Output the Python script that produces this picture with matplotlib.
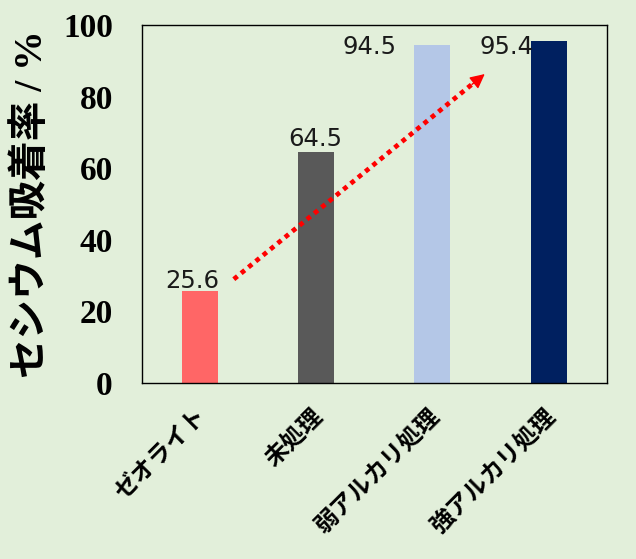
import matplotlib
matplotlib.use('Agg')
import matplotlib.pyplot as plt
import matplotlib.transforms as mtransforms
import numpy as np

# data
categories = ['ゼオライト', '未処理', '弱アルカリ処理', '強アルカリ処理']
adsorption = [25.6, 64.5, 94.5, 95.4]
bar_colors = ['#FF6666', '#595959', '#B4C7E7', '#002060']
# where each value label sits (x, baseline y) in data coords
label_pos = [(-0.07, 26.6), (0.99, 66.3), (1.46, 92.0), (2.64, 92.0)]

bg = '#E2EFDA'
jp = ['Noto Sans CJK JP', 'DejaVu Sans']

fig = plt.figure(figsize=(6.36, 5.59), dpi=100, facecolor=bg)
ax = fig.add_axes([0.2233, 0.3148, 0.7307, 0.6405])
ax.set_facecolor(bg)

x = np.arange(len(categories))
ax.bar(x, adsorption, width=0.31, color=bar_colors, zorder=2)

for (lx, ly), v in zip(label_pos, adsorption):
    ax.text(lx, ly, f'{v:.1f}', ha='center', va='baseline', fontsize=17.5,
            family='DejaVu Sans', color='#1a1a1a', zorder=4)

# dotted trend arrow
x0, y0 = 0.29, 29.0
x1, y1 = 2.45, 86.3
ax.plot([x0, x1 - 0.1], [y0, y1 - 2.6], color='red', lw=3.4,
        linestyle=(0, (1, 1.0)), dash_capstyle='butt', zorder=3)
ax.annotate('', xy=(x1, y1), xytext=(x1 - 0.11, y1 - 2.9),
            arrowprops=dict(arrowstyle='-|>', color='red', lw=1,
                            mutation_scale=22, shrinkA=0, shrinkB=0),
            zorder=3)

ax.set_xlim(-0.5, 3.5)
ax.set_ylim(0, 100)
ax.set_yticks([0, 20, 40, 60, 80, 100])
ax.set_xticks(x)
ax.set_xticklabels(categories, rotation=45, ha='right', rotation_mode='anchor',
                   family=jp, fontsize=17, fontweight='bold')
ax.tick_params(axis='both', length=0)
ax.tick_params(axis='x', pad=15)
ax.tick_params(axis='y', pad=21)
shift = mtransforms.ScaledTranslation(-6 / 100, 0, fig.dpi_scale_trans)
for t in ax.get_xticklabels():
    t.set_transform(t.get_transform() + shift)
for t in ax.get_yticklabels():
    t.set_family('Liberation Serif')
    t.set_fontweight('bold')
    t.set_fontsize(24)

for s in ax.spines.values():
    s.set_color('black')
    s.set_linewidth(1.0)

fig.text(0.05, 0.635, 'セシウム吸着率 / %', rotation=90, ha='center', va='center',
         family=['Liberation Serif', 'Noto Sans CJK JP'], fontsize=28.5,
         fontweight='bold')

fig.savefig('out.png', dpi=100, facecolor=bg)
